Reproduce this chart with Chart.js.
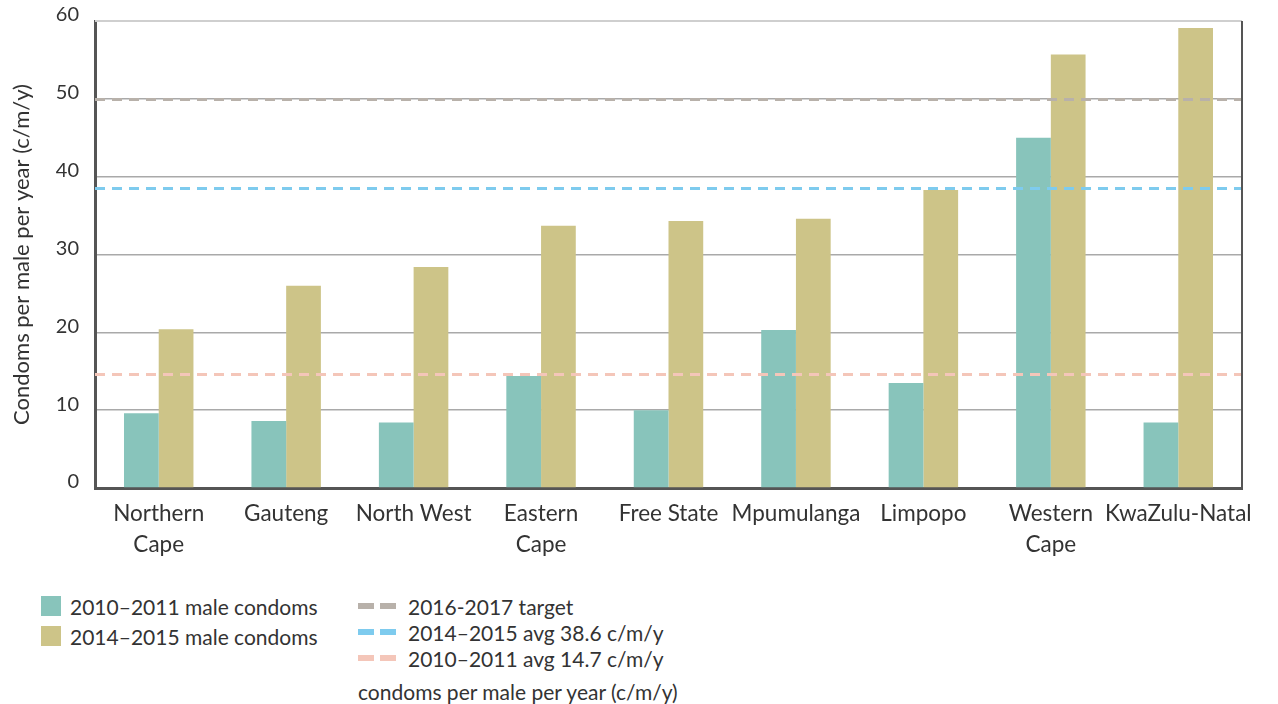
<!DOCTYPE html>
<html>
<head>
<meta charset="utf-8">
<script src="https://cdn.jsdelivr.net/npm/chart.js@4"></script>
<style>
    body { margin: 0; background: #fff; width: 1278px; height: 704px; overflow: hidden; position: relative; font-family: Lato, sans-serif; color: #333; }
    #chartBox { position: absolute; left: 0; top: 0; width: 1278px; height: 570px; }
    .legend { position: absolute; font-size: 21px; white-space: nowrap; }
    .legend .row { display: flex; align-items: center; height: 26px; }
    .swatch { width: 20px; height: 20px; margin-right: 9px; }
    .dash { display: inline-block; width: 16px; height: 6px; margin-right: 6px; }
    .dash + .dash { margin-right: 12px; }
    .note { position: absolute; left: 358px; top: 679px; font-size: 21px; white-space: nowrap; }
</style>
</head>
<body>
<div id="chartBox"><canvas id="condomChart" width="1278" height="570"></canvas></div>

<div class="legend" style="left:41px; top:593px;">
    <div class="row"><span class="swatch" style="background:#88c4bb"></span>2010–2011 male condoms</div>
    <div class="row" style="margin-top:4px"><span class="swatch" style="background:#cdc488"></span>2014–2015 male condoms</div>
</div>
<div class="legend" style="left:358px; top:593px;">
    <div class="row"><span class="dash" style="background:#b8b1aa"></span><span class="dash" style="background:#b8b1aa"></span>2016-2017 target</div>
    <div class="row"><span class="dash" style="background:#7ecbee"></span><span class="dash" style="background:#7ecbee"></span>2014–2015 avg 38.6 c/m/y</div>
    <div class="row"><span class="dash" style="background:#f4c6b9"></span><span class="dash" style="background:#f4c6b9"></span>2010–2011 avg 14.7 c/m/y</div>
</div>
<div class="note">condoms per male per year (c/m/y)</div>

<script>
// Provinces (x categories)
const provinces = [
    ['Northern', 'Cape'], 'Gauteng', 'North West', ['Eastern', 'Cape'], 'Free State',
    'Mpumulanga', 'Limpopo', ['Western', 'Cape'], 'KwaZulu-Natal'
];

// Male condoms per male per year
const condoms2010 = [9.6, 8.6, 8.4, 14.4, 10.0, 20.3, 13.5, 45.0, 8.4];
const condoms2014 = [20.4, 26.0, 28.4, 33.7, 34.3, 34.6, 38.3, 55.7, 59.1];

// Reference lines: target, 2014-2015 average, 2010-2011 average
const refLabels = ['2016-2017 target', '2014–2015 avg 38.6 c/m/y', '2010–2011 avg 14.7 c/m/y'];
const refValues = [50, 38.6, 14.7];
const refColors = ['#b8b1aa', '#7ecbee', '#f4c6b9'];

const yTicks = [0, 10, 20, 30, 40, 50, 60];

// dashed horizontal reference lines + frame lines
const refLinePlugin = {
    id: 'refLines',
    afterDatasetsDraw(chart) {
        const ctx = chart.ctx;
        const area = chart.chartArea;
        const y = chart.scales.y;
        ctx.save();
        ctx.lineWidth = 3;
        ctx.setLineDash([10, 7]);
        refValues.forEach((v, i) => {
            const py = Math.round(y.getPixelForValue(v)) + 0.5;
            ctx.strokeStyle = refColors[i];
            ctx.beginPath();
            ctx.moveTo(area.left, py);
            ctx.lineTo(area.right, py);
            ctx.stroke();
        });
        ctx.restore();
    },
    afterDraw(chart) {
        const ctx = chart.ctx;
        const area = chart.chartArea;
        ctx.save();
        ctx.strokeStyle = '#cfcfcf';
        ctx.lineWidth = 2;
        ctx.beginPath();
        ctx.moveTo(area.left, area.top);
        ctx.lineTo(area.right, area.top);
        ctx.stroke();
        ctx.strokeStyle = '#555';
        ctx.beginPath();
        ctx.moveTo(area.right, area.top);
        ctx.lineTo(area.right, area.bottom);
        ctx.stroke();
        ctx.restore();
    }
};

const ctx = document.getElementById('condomChart').getContext('2d');
new Chart(ctx, {
    type: 'bar',
    data: {
        labels: provinces,
        datasets: [
            { label: '2010–2011 male condoms', data: condoms2010, backgroundColor: '#88c4bb' },
            { label: '2014–2015 male condoms', data: condoms2014, backgroundColor: '#cdc488' }
        ]
    },
    options: {
        responsive: false,
        animation: false,
        devicePixelRatio: 1,
        categoryPercentage: 0.545,
        barPercentage: 1,
        layout: { padding: { top: 21, right: 36, left: 0, bottom: 0 } },
        plugins: { legend: { display: false }, tooltip: { enabled: false } },
        scales: {
            x: {
                grid: { display: false },
                border: { color: '#555', width: 3 },
                ticks: {
                    color: '#333',
                    padding: 3,
                    maxRotation: 0,
                    autoSkip: false,
                    font: { family: 'Lato', size: 22.5, lineHeight: 1.35 }
                },
                afterFit: (scale) => { scale.height = 82; }
            },
            y: {
                min: 0,
                max: 60,
                z: 1,
                afterBuildTicks: (scale) => { scale.ticks = yTicks.map(v => ({ value: v })); },
                grid: { color: '#a9a9a9', lineWidth: 1.5, drawTicks: false },
                border: { color: '#555', width: 3 },
                ticks: {
                    color: '#333',
                    padding: 16,
                    labelOffset: -6,
                    font: { family: 'Lato', size: 20 }
                },
                title: {
                    display: true,
                    text: 'Condoms per male per year (c/m/y)',
                    color: '#333',
                    font: { family: 'Lato', size: 22 },
                    padding: { top: 9, bottom: 0 }
                },
                afterFit: (scale) => {
                    scale.width = 95;
                    scale.paddingTop = 0;
                    scale.paddingBottom = 0;
                }
            }
        }
    },
    plugins: [refLinePlugin]
});
</script>
</body>
</html>
